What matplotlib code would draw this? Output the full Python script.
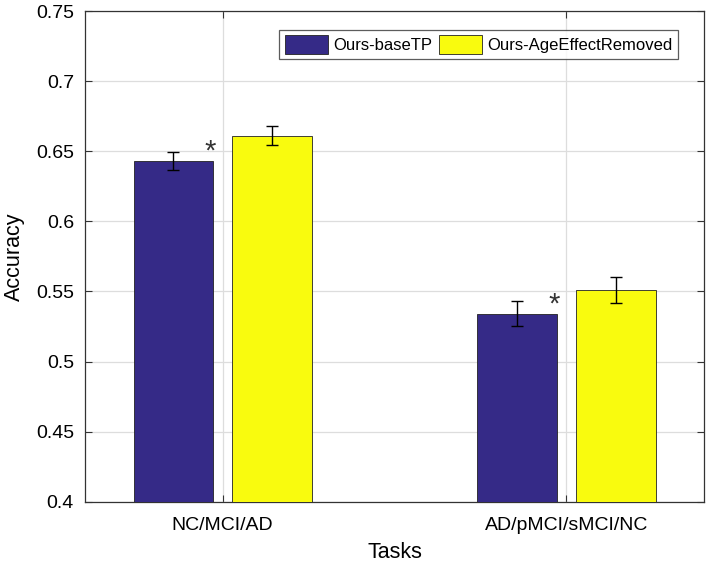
import numpy as np
import matplotlib
matplotlib.use("Agg")
import matplotlib.pyplot as plt

# Data
tasks = ["NC/MCI/AD", "AD/pMCI/sMCI/NC"]
series_names = ["Ours-baseTP", "Ours-AgeEffectRemoved"]
base_tp = [0.643, 0.534]
base_tp_err = [0.0065, 0.009]
age_removed = [0.661, 0.551]
age_removed_err = [0.0068, 0.009]
colors = ["#352a87", "#f9fb0e"]

plt.rcParams['font.family'] = ['Liberation Sans', 'DejaVu Sans']

fig = plt.figure(figsize=(7.09, 5.65), dpi=100)
ax = fig.add_axes([0.120, 0.112, 0.873, 0.8685])

x = np.arange(1, len(tasks) + 1)
width = 0.232
offset = 0.143

ax.bar(x - offset, base_tp, width, color=colors[0], edgecolor="#222222", linewidth=0.6,
       label=series_names[0], zorder=3)
ax.bar(x + offset, age_removed, width, color=colors[1], edgecolor="#222222", linewidth=0.6,
       label=series_names[1], zorder=3)
ax.errorbar(x - offset, base_tp, yerr=base_tp_err, fmt="none", ecolor="black",
            elinewidth=1, capsize=4, capthick=1, zorder=4)
ax.errorbar(x + offset, age_removed, yerr=age_removed_err, fmt="none", ecolor="black",
            elinewidth=1, capsize=4, capthick=1, zorder=4)

# significance stars
for xi, v in zip(x - offset, base_tp):
    ax.text(xi + width / 2 - 0.01, v - 0.0035, "*", fontsize=21, color="#333333",
            ha="center", va="bottom", zorder=5)

ax.set_xlim(0.6, 2.4)
ax.set_ylim(0.4, 0.75)
ax.set_xticks(x)
ax.set_xticklabels(tasks)
ax.set_yticks(np.arange(0.4, 0.7501, 0.05))
ax.set_yticklabels(["0.4", "0.45", "0.5", "0.55", "0.6", "0.65", "0.7", "0.75"])
ax.tick_params(labelsize=14, direction="in", top=True, right=True, length=5,
               color="#333333", pad=8)
ax.tick_params(axis="x", pad=11)
ax.grid(True, color="#dddddd", linewidth=0.9, zorder=0)
ax.set_axisbelow(True)
for sp in ax.spines.values():
    sp.set_color("#333333")
    sp.set_linewidth(0.9)

ax.set_xlabel("Tasks", fontsize=15.5, labelpad=6)
ax.set_ylabel("Accuracy", fontsize=15.5, labelpad=8)

leg = ax.legend(loc="upper right", ncol=2, fontsize=12, frameon=True, fancybox=False,
                edgecolor="#333333", borderpad=0.35, handlelength=2.6, handleheight=1.3,
                columnspacing=0.4, handletextpad=0.3, bbox_to_anchor=(0.958, 0.962),
                borderaxespad=0)
leg.get_frame().set_linewidth(0.9)

fig.savefig("out.png", dpi=100)
